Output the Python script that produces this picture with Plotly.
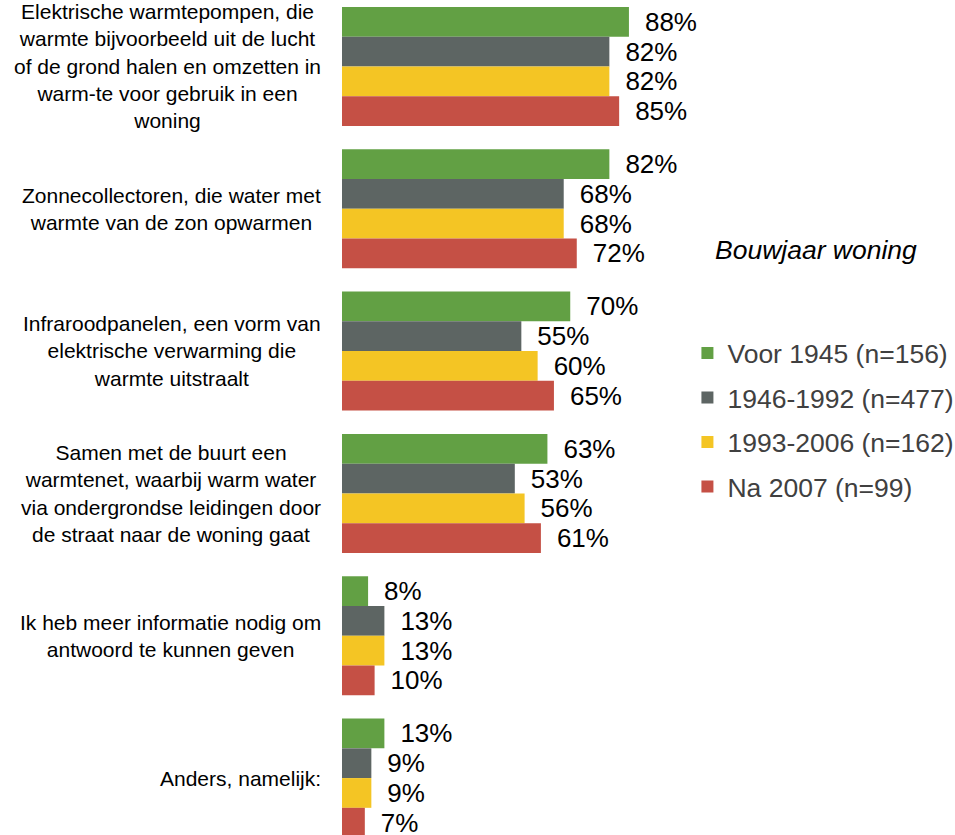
import plotly.graph_objects as go

categories = [
    "Elektrische warmtepompen, die<br>warmte bijvoorbeeld uit de lucht<br>of de grond halen en omzetten in<br>warm-te voor gebruik in een<br>woning",
    "Zonnecollectoren, die water met<br>warmte van de zon opwarmen",
    "Infraroodpanelen, een vorm van<br>elektrische verwarming die<br>warmte uitstraalt",
    "Samen met de buurt een<br>warmtenet, waarbij warm water<br>via ondergrondse leidingen door<br>de straat naar de woning gaat",
    "Ik heb meer informatie nodig om<br>antwoord te kunnen geven",
    "Anders, namelijk:",
]
series_names = ["Voor 1945 (n=156)", "1946-1992 (n=477)", "1993-2006 (n=162)", "Na 2007 (n=99)"]
voor_1945 = [88, 82, 70, 63, 8, 13]
j1946_1992 = [82, 68, 55, 53, 13, 9]
j1993_2006 = [82, 68, 60, 56, 13, 9]
na_2007 = [85, 72, 65, 61, 10, 7]
series_values = [voor_1945, j1946_1992, j1993_2006, na_2007]
colors = ["#62A044", "#5D6563", "#F4C524", "#C55045"]
legend_title = "Bouwjaar woning"

FONT = "Arial, 'Liberation Sans', sans-serif"
cat_idx = list(range(len(categories)))

fig = go.Figure()
for name, vals, col in zip(series_names, series_values, colors):
    fig.add_trace(go.Bar(
        y=cat_idx, x=vals, name=name, orientation="h",
        marker=dict(color=col, line=dict(width=0)),
        text=vals, texttemplate="\u2002%{x}%", textposition="outside",
        textfont=dict(size=26, color="#000000", family=FONT),
        constraintext="none", cliponaxis=False, legendgroup=name,
    ))

for i, cat in enumerate(categories):
    fig.add_annotation(
        x=0, xref="paper", y=i, yref="y", text=cat, showarrow=False,
        xanchor="right", yanchor="middle", align="center", xshift=-19,
        font=dict(size=21, color="#000000", family=FONT),
    )

fig.add_annotation(
    x=0.773, xref="paper", y=0.7006, yref="paper", text="<i>" + legend_title + "</i>",
    showarrow=False, xanchor="center", yanchor="middle",
    font=dict(size=26.5, color="#000000", family=FONT),
)

fig.update_layout(
    width=955, height=835,
    margin=dict(l=342, r=0, t=0, b=0, autoexpand=False),
    paper_bgcolor="white", plot_bgcolor="white",
    barmode="group", bargap=0.164, bargroupgap=0,
    font=dict(family=FONT),
    xaxis=dict(range=[0, 188], visible=False, showgrid=False, zeroline=False),
    yaxis=dict(range=[5.40, -0.467], showticklabels=False, showgrid=False,
               zeroline=False, ticks=""),
    legend=dict(x=0.5635, y=0.6056, xanchor="left", yanchor="top",
                font=dict(size=26.5, color="#404040", family=FONT),
                traceorder="grouped", tracegroupgap=7, bgcolor="rgba(0,0,0,0)"),
    showlegend=True,
)

fig.write_html("out.html", config={"displayModeBar": False},
               post_script="document.body.style.margin='0px';")
